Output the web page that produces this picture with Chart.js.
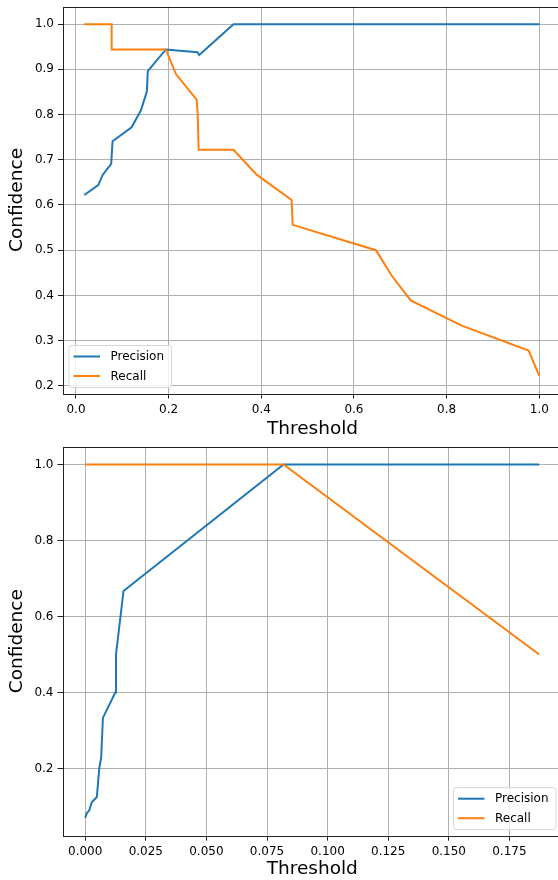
<!DOCTYPE html>
<html><head><meta charset="utf-8">
<script src="https://cdn.jsdelivr.net/npm/chart.js@4.4.1/dist/chart.umd.min.js"></script>
<style>
html,body{margin:0;padding:0;background:#fff;overflow:hidden;width:558px;height:880px;}
canvas{position:absolute;left:0;}
</style></head><body>
<canvas id="c1" width="580" height="440" style="top:0"></canvas>
<canvas id="c2" width="580" height="440" style="top:440px"></canvas>
<script>
// ---------- Top chart data ----------
const topPrecisionX = [0.018, 0.048, 0.058, 0.076, 0.079, 0.120, 0.140, 0.153, 0.155, 0.194, 0.262, 0.266, 0.340, 1.0];
const topPrecisionY = [0.622, 0.644, 0.667, 0.691, 0.741, 0.772, 0.809, 0.851, 0.896, 0.944, 0.938, 0.932, 1.0, 1.0];
const topRecallX = [0.018, 0.077, 0.077, 0.194, 0.216, 0.2605, 0.2626, 0.2648, 0.340, 0.390, 0.4655, 0.4677, 0.6475, 0.6813, 0.7224, 0.8325, 0.977, 1.0];
const topRecallY = [1.0, 1.0, 0.944, 0.944, 0.889, 0.833, 0.803, 0.722, 0.722, 0.667, 0.611, 0.556, 0.5, 0.444, 0.389, 0.333, 0.278, 0.222];
const topXTicks = [0, 0.2, 0.4, 0.6, 0.8, 1.0];
const topXTickLabels = ['0.0', '0.2', '0.4', '0.6', '0.8', '1.0'];
const topYTicks = [0.2, 0.3, 0.4, 0.5, 0.6, 0.7, 0.8, 0.9, 1.0];
const topYTickLabels = ['0.2', '0.3', '0.4', '0.5', '0.6', '0.7', '0.8', '0.9', '1.0'];

// ---------- Bottom chart data ----------
const botPrecisionX = [0.0, 0.0007, 0.0017, 0.0027, 0.0048, 0.0058, 0.0066, 0.0073, 0.0124, 0.0127, 0.0158, 0.0818, 0.1873];
const botPrecisionY = [0.070, 0.083, 0.090, 0.111, 0.125, 0.200, 0.230, 0.333, 0.400, 0.500, 0.667, 1.0, 1.0];
const botRecallX = [0.0, 0.0818, 0.1873];
const botRecallY = [1.0, 1.0, 0.5];
const botXTicks = [0, 0.025, 0.05, 0.075, 0.1, 0.125, 0.15, 0.175];
const botXTickLabels = ['0.000', '0.025', '0.050', '0.075', '0.100', '0.125', '0.150', '0.175'];
const botYTicks = [0.2, 0.4, 0.6, 0.8, 1.0];
const botYTickLabels = ['0.2', '0.4', '0.6', '0.8', '1.0'];

const seriesNames = ['Precision', 'Recall'];
const xTitle = 'Threshold';
const yTitle = 'Confidence';

const FAMILY = "'DejaVu Sans', sans-serif";
const BLUE = '#1f77b4', ORANGE = '#ff7f0e';

function pts(xs, ys) { return xs.map((x, i) => ({x: x, y: ys[i]})); }

const framePlugin = {
  id: 'frame',
  afterDatasetsDraw(chart) {
    const a = chart.chartArea, ctx = chart.ctx;
    ctx.save();
    ctx.strokeStyle = '#222';
    ctx.lineWidth = 1;
    ctx.strokeRect(Math.round(a.left) + 0.5, Math.round(a.top) + 0.5, Math.round(a.right - a.left), Math.round(a.bottom - a.top));
    ctx.restore();
  }
};

const legendPlugin = {
  id: 'mplLegend',
  afterDraw(chart, args, opts) {
    const ctx = chart.ctx, a = chart.chartArea;
    ctx.save();
    ctx.font = '12px ' + FAMILY;
    const ds = chart.data.datasets;
    let tw = 0;
    ds.forEach(d => { tw = Math.max(tw, ctx.measureText(d.label).width); });
    const w = 41.5 + tw + 7.5, h = 42;
    const bx = opts.loc === 'right' ? a.right - 6 - w : a.left + 6;
    const by = a.bottom - 6 - h;
    const r = 3;
    ctx.beginPath();
    ctx.moveTo(bx + r, by);
    ctx.lineTo(bx + w - r, by); ctx.quadraticCurveTo(bx + w, by, bx + w, by + r);
    ctx.lineTo(bx + w, by + h - r); ctx.quadraticCurveTo(bx + w, by + h, bx + w - r, by + h);
    ctx.lineTo(bx + r, by + h); ctx.quadraticCurveTo(bx, by + h, bx, by + h - r);
    ctx.lineTo(bx, by + r); ctx.quadraticCurveTo(bx, by, bx + r, by);
    ctx.closePath();
    ctx.fillStyle = 'rgba(255,255,255,0.8)';
    ctx.fill();
    ctx.strokeStyle = '#d6d6d6';
    ctx.lineWidth = 1;
    ctx.stroke();
    ds.forEach((d, i) => {
      const yy = by + 11 + i * 19.5;
      ctx.strokeStyle = d.borderColor;
      ctx.lineWidth = 2;
      ctx.beginPath(); ctx.moveTo(bx + 4.5, yy); ctx.lineTo(bx + 31, yy); ctx.stroke();
      ctx.fillStyle = '#000';
      ctx.textBaseline = 'middle';
      ctx.textAlign = 'left';
      ctx.fillText(d.label, bx + 41.5, yy + 0.5);
    });
    ctx.restore();
  }
};

function makeChart(id, cfg) {
  return new Chart(document.getElementById(id), {
    type: 'line',
    data: {
      datasets: [
        {label: seriesNames[0], data: pts(cfg.px, cfg.py), borderColor: BLUE, backgroundColor: BLUE, borderWidth: 2, pointRadius: 0, tension: 0, order: 1, fill: false},
        {label: seriesNames[1], data: pts(cfg.rx, cfg.ry), borderColor: ORANGE, backgroundColor: ORANGE, borderWidth: 2, pointRadius: 0, tension: 0, order: 0, fill: false}
      ]
    },
    options: {
      responsive: false,
      animation: false,
      devicePixelRatio: 1,
      parsing: true,
      layout: {padding: {top: cfg.padTop, right: 18, bottom: 0, left: 0}},
      plugins: {legend: {display: false}, tooltip: {enabled: false}, mplLegend: {loc: cfg.legendLoc}},
      scales: {
        x: {
          type: 'linear', min: cfg.xmin, max: cfg.xmax,
          afterBuildTicks: s => { s.ticks = cfg.xTicks.map(v => ({value: v})); },
          afterFit: s => { s.height = cfg.xAxisH; s.paddingLeft = 0; s.paddingRight = 0; },
          ticks: {callback: v => cfg.xLabels[cfg.xTicks.findIndex(t => Math.abs(t - v) < 1e-9)], font: {family: FAMILY, size: 12}, color: '#000', padding: 4, maxRotation: 0, autoSkip: false},
          grid: {color: '#b0b0b0', lineWidth: 1, tickLength: 5, tickColor: '#222', tickWidth: 1},
          border: {display: false},
          title: {display: true, text: xTitle, font: {family: FAMILY, size: 18.5}, color: '#000', padding: {top: 0, bottom: cfg.xTitlePad}}
        },
        y: {
          type: 'linear', min: cfg.ymin, max: cfg.ymax,
          afterBuildTicks: s => { s.ticks = cfg.yTicks.map(v => ({value: v})); },
          afterFit: s => { s.width = cfg.yAxisW; s.paddingTop = 0; s.paddingBottom = 0; },
          ticks: {callback: v => cfg.yLabels[cfg.yTicks.findIndex(t => Math.abs(t - v) < 1e-9)], font: {family: FAMILY, size: 12}, color: '#000', padding: 4, autoSkip: false},
          grid: {color: '#b0b0b0', lineWidth: 1, tickLength: 5, tickColor: '#222', tickWidth: 1},
          border: {display: false},
          title: {display: true, text: yTitle, font: {family: FAMILY, size: 18.5}, color: '#000', padding: {top: 6.5, bottom: 0}}
        }
      }
    },
    plugins: [framePlugin, legendPlugin]
  });
}

makeChart('c1', {
  px: topPrecisionX, py: topPrecisionY, rx: topRecallX, ry: topRecallY,
  xTicks: topXTicks, xLabels: topXTickLabels, yTicks: topYTicks, yLabels: topYTickLabels,
  xmin: -0.028, xmax: 1.049, ymin: 0.183, ymax: 1.039,
  padTop: 6.5, xAxisH: 46.5, yAxisW: 63, xTitlePad: 0, legendLoc: 'left'
});
makeChart('c2', {
  px: botPrecisionX, py: botPrecisionY, rx: botRecallX, ry: botRecallY,
  xTicks: botXTicks, xLabels: botXTickLabels, yTicks: botYTicks, yLabels: botYTickLabels,
  xmin: -0.00937, xmax: 0.1967, ymin: 0.0232, ymax: 1.0465,
  padTop: 6.7, xAxisH: 44.3, yAxisW: 62.5, xTitlePad: 0, legendLoc: 'right'
});
</script>
</body></html>
